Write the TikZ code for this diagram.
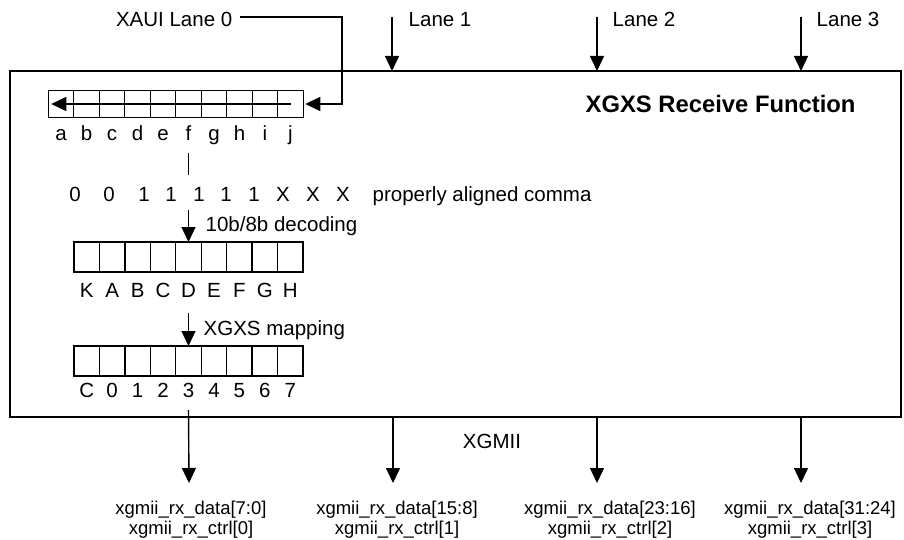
\documentclass[tikz,border=0pt]{standalone}
\usepackage{fontspec}
\setmainfont{Liberation Sans}
\usepackage{tikz}
\usetikzlibrary{positioning}
\usetikzlibrary{arrows.meta}
\tikzset{edge/.style = {->,> = {Triangle[width=14pt,length=15pt]}}}
\tikzset{lbl/.style = {inner sep=0pt,font=\fontsize{20.5}{24}\selectfont}}

\begin{document}
\begin{tikzpicture}[x=1pt,y=-1pt,line width=1.4pt,
    cell/.style={draw,inner sep=0pt,outer sep=0pt,minimum width=25.45pt,minimum height=30pt},
    bus/.style={inner sep=0pt,align=center,font=\fontsize{18.5}{20}\selectfont}]
  \useasboundingbox (0,0) rectangle (904,540);

  % receive block
  \node[draw,inner sep=0pt,outer sep=0pt,anchor=north west,minimum width=891pt,minimum height=346pt] (rx) at (10,71) {};
  \node[lbl,anchor=base west,font=\fontsize{23.8}{28}\selectfont\bfseries] (title) at (585,113) {XGXS Receive Function};

  % lanes in
  \node[lbl,anchor=base east] (lane0) at (233,27) {XAUI Lane 0};
  \node[lbl,anchor=base west] (lane1) at (408,27) {Lane 1};
  \node[lbl,anchor=base west] (lane2) at (612,27) {Lane 2};
  \node[lbl,anchor=base west] (lane3) at (816,27) {Lane 3};
  \coordinate (in0) at (342,17);
  \coordinate (in1) at (392,17);
  \coordinate (in2) at (597,17);
  \coordinate (in3) at (801,17);
  \foreach \x in {1,2,3}
    \draw[edge] (in\x) -- (in\x |- rx.north);

  % 10 bit register
  \node[cell,minimum height=27.5pt,minimum width=25.5pt] (ra0) at (61,104) {};
  \foreach \i [count=\j from 0] in {1,...,9}
    \node[cell,minimum height=27.5pt,minimum width=25.5pt,right=0pt of ra\j] (ra\i) {};
  \foreach \l [count=\i from 0] in {a,b,c,d,e,f,g,h,i,j}
    \node[lbl,anchor=base] (la\i) at (ra\i |- 0,141) {\l};
  \coordinate (l0) at (240,17);
  \draw[edge] (l0) -- (in0) |- ([xshift=2pt]ra9.east);
  \draw[edge] (ra9.center) -- ([xshift=3pt]ra0.west);
  \draw (la5 |- 0,153) -- (la5 |- 0,175);

  % comma
  \foreach \v/\x [count=\i] in {0/75,0/109,1/144,1/171,1/199,1/226,1/254,X/283,X/313,X/343}
    \node[lbl,anchor=base] (bit\i) at (\x,201) {\v};
  \node[lbl,anchor=base west] (comma) at (372,201) {properly aligned comma};

  % decoded byte
  \node[cell] (rb0) at (86.7,257) {};
  \foreach \i [count=\j from 0] in {1,...,8}
    \node[cell,right=0pt of rb\j] (rb\i) {};
  \foreach \l [count=\i from 0] in {K,A,B,C,D,E,F,G,H}
    \node[lbl,anchor=base] (lb\i) at (rb\i |- 0,297) {\l};
  \draw[edge] (rb4 |- 0,210) -- (rb4.north);
  \node[lbl,anchor=base west] (dec) at (205,231) {10b/8b decoding};

  % mapped byte
  \node[cell] (rc0) at (86.7,361) {};
  \foreach \i [count=\j from 0] in {1,...,8}
    \node[cell,right=0pt of rc\j] (rc\i) {};
  \foreach \l [count=\i from 0] in {C,0,1,2,3,4,5,6,7}
    \node[lbl,anchor=base] (lc\i) at (rc\i |- 0,397) {\l};
  \draw[edge] (rc4 |- 0,313) -- (rc4.north);
  \node[lbl,anchor=base west] (map) at (203,335) {XGXS mapping};

  % XGMII out
  \node[lbl,anchor=base] (xgmii) at (492,448) {XGMII};
  \coordinate (out0) at (189,483);
  \coordinate (out1) at (393,483);
  \coordinate (out2) at (597,483);
  \coordinate (out3) at (801,483);
  \draw[edge] (rc4 |- 0,410) -- (out0);
  \foreach \x in {1,2,3}
    \draw[edge] (out\x |- rx.south) -- (out\x);
  \node[bus,anchor=north] (bus0) at (191,500) {xgmii\_rx\_data[7:0]\\xgmii\_rx\_ctrl[0]};
  \node[bus,anchor=north] (bus1) at (397,500) {xgmii\_rx\_data[15:8]\\xgmii\_rx\_ctrl[1]};
  \node[bus,anchor=north] (bus2) at (610,500) {xgmii\_rx\_data[23:16]\\xgmii\_rx\_ctrl[2]};
  \node[bus,anchor=north] (bus3) at (810,500) {xgmii\_rx\_data[31:24]\\xgmii\_rx\_ctrl[3]};
\end{tikzpicture}
\end{document}
